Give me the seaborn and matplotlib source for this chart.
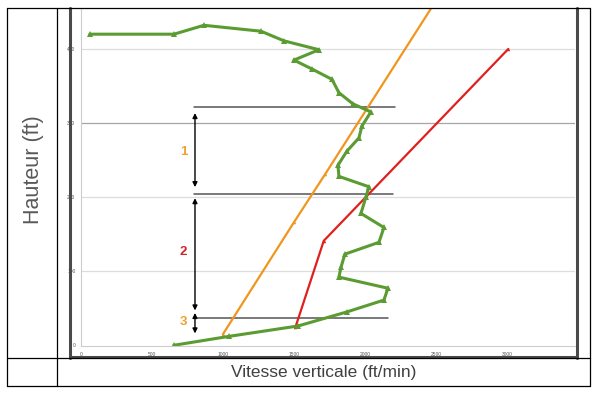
import matplotlib
matplotlib.use('Agg')
import matplotlib.pyplot as plt
from matplotlib.lines import Line2D
import seaborn as sns

# données
vitesse_mesuree = [655, 1042, 1528, 1873, 2134, 2162, 1817, 1831, 1859, 2099, 2134, 1972, 2007,
                   2028, 1817, 1810, 1873, 1958, 1979, 2042, 1915, 1817, 1768, 1627, 1500, 1676,
                   1430, 1268, 866, 655, 63]
hauteur_mesuree = [0, 12, 26, 45, 61, 77, 92, 105, 123, 139, 159, 178, 200,
                   214, 228, 243, 262, 280, 296, 315, 326, 341, 359, 373, 385, 399,
                   411, 424, 432, 420, 420]

vitesse_orange = [1000, 1500, 1720, 2480]
hauteur_orange = [15, 166, 231, 459]

vitesse_rouge = [1510, 1710, 3010]
hauteur_rouge = [24, 141, 400]

x_ticks = [0, 500, 1000, 1500, 2000, 2500, 3000]
y_ticks = [0, 100, 200, 300, 400]

# segments horizontaux (x début, x fin, hauteur)
segments = [(796, 2211, 321.6), (796, 2197, 204), (810, 2162, 36.5)]
# flèches (haut, bas) et étiquettes des phases
fleches = [(313.5, 213.5), (198.6, 47), (43.6, 16)]
phases = ['1', '2', '3']
phases_y = [261, 126, 31]
phases_couleur = ['#F0A030', '#D42027', '#F0A030']

sns.set_style('white')
plt.rcParams['font.family'] = ['Liberation Sans', 'DejaVu Sans']

W, H = 603, 394
fig = plt.figure(figsize=(W / 100, H / 100), dpi=100)


def fx(px):
    return px / W


def fy(py):
    return 1 - py / H


ax = fig.add_axes([fx(81), fy(346), (575 - 81) / W, (346 - 9) / H])

sns.lineplot(x=vitesse_orange, y=hauteur_orange, sort=False, estimator=None, color='#F0961E',
             lw=1.6, marker='^', markersize=2.5, markeredgewidth=0, ax=ax)
sns.lineplot(x=vitesse_rouge, y=hauteur_rouge, sort=False, estimator=None, color='#E0201E',
             lw=1.6, marker='^', markersize=2.5, markeredgewidth=0, ax=ax)
sns.lineplot(x=vitesse_mesuree, y=hauteur_mesuree, sort=False, estimator=None, color='#5A9B32',
             lw=2.2, marker='^', markersize=4.5, markeredgewidth=0, ax=ax)

for x0, x1, yy in segments:
    ax.plot([x0, x1], [yy, yy], color='#555555', lw=1.1, zorder=1)

for (haut, bas), nom, yy, coul in zip(fleches, phases, phases_y, phases_couleur):
    ax.annotate('', xy=(803, haut), xytext=(803, bas),
                arrowprops=dict(arrowstyle='<|-|>', color='black', lw=1.0,
                                mutation_scale=7, shrinkA=0, shrinkB=0))
    ax.text(722, yy, nom, color=coul, fontsize=9.5, fontweight='bold',
            ha='center', va='center')

ax.set_xlim(0, 3480)
ax.set_ylim(-1, 454)
ax.set_xticks(x_ticks)
ax.set_yticks(y_ticks)
ax.set_xticklabels([str(v) for v in x_ticks], fontsize=3.5, color='#555555')
ax.set_yticklabels([str(v) for v in y_ticks], fontsize=3.5, color='#555555')
ax.tick_params(axis='both', length=2, width=0.5, color='#bbbbbb', pad=2)
ax.set_xlabel('')
ax.set_ylabel('')

for v in y_ticks[1:]:
    ax.axhline(v, color='#a6a6a6' if v == 300 else '#dddddd', lw=0.9, zorder=0)

for s in ['top', 'right']:
    ax.spines[s].set_visible(False)
for s in ['left', 'bottom']:
    ax.spines[s].set_color('#cccccc')
    ax.spines[s].set_linewidth(0.8)

# cadre gris de l'image du graphique
for (x0, y0, x1, y1) in [(70, 8, 70, 358), (577, 8, 577, 358), (70, 357, 577, 357)]:
    fig.add_artist(Line2D([fx(x0), fx(x1)], [fy(y0), fy(y1)], color='#4a4a4a', lw=2.2))

# lignes du tableau
for (x0, y0, x1, y1) in [(7, 8, 590, 8), (7, 386, 590, 386), (7, 8, 7, 386), (590, 8, 590, 386),
                         (57, 8, 57, 386), (7, 358, 590, 358)]:
    fig.add_artist(Line2D([fx(x0), fx(x1)], [fy(y0), fy(y1)], color='black', lw=0.9))

fig.text(fx(324), fy(372), 'Vitesse verticale (ft/min)', fontsize=12.5, color='#404040',
         ha='center', va='center')
fig.text(fx(33), fy(170), 'Hauteur (ft)', fontsize=15.5, color='#595959',
         ha='center', va='center', rotation=90)

fig.savefig('out.png', dpi=100)
